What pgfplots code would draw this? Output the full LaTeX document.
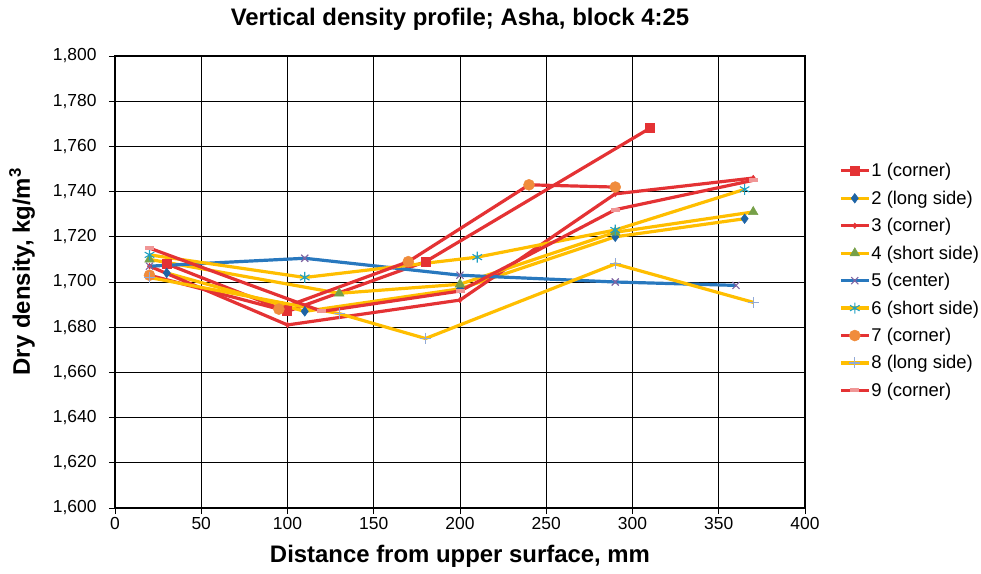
\documentclass[border=0pt]{standalone}
\usepackage{fontspec}
\setmainfont{Liberation Sans}
\usepackage{pgfplots}
\pgfplotsset{compat=1.18}

\definecolor{cred}{RGB}{228,50,52}
\definecolor{cgold}{RGB}{255,190,0}
\definecolor{cblue}{RGB}{40,120,190}
\definecolor{cdiam}{RGB}{30,100,165}
\definecolor{cgreen}{RGB}{118,160,72}
\definecolor{cpurp}{RGB}{128,100,162}
\definecolor{cteal}{RGB}{30,160,195}
\definecolor{corange}{RGB}{240,140,60}
\definecolor{cplus}{RGB}{145,170,215}
\definecolor{cpink}{RGB}{240,150,150}

\pgfplotsset{
  legend image code/.code={
    \draw[mark repeat=2,mark phase=2,#1] plot coordinates {(0bp,0bp) (14bp,0bp) (28bp,0bp)};
  },
}

\begin{document}
\begin{tikzpicture}
\begin{axis}[
  name=ax,
  scale only axis,
  width=690bp, height=452bp,
  xmin=0, xmax=400, ymin=1600, ymax=1800,
  xtick={0,50,...,400}, ytick={1600,1620,...,1800},
  scaled ticks=false,
  grid=major,
  major grid style={black, line width=0.9bp},
  axis line style={black, line width=1.2bp},
  tick align=outside, xtick pos=left, ytick pos=left,
  major tick length=6bp,
  tick style={black, line width=0.9bp},
  ticklabel style={font=\fontsize{17.5}{20}\selectfont},
  /pgf/number format/assume math mode=true,
  yticklabel style={/pgf/number format/1000 sep={,}, xshift=-9bp},
  title={Vertical density profile; Asha, block 4:25},
  title style={font=\fontsize{24}{28}\selectfont\bfseries, at={(axis description cs:0.5,1.0553)}, anchor=base},
  xlabel={Distance from upper surface, mm},
  ylabel={Dry density, kg/m\textsuperscript{3}},
  label style={font=\fontsize{24}{28}\selectfont\bfseries},
  xlabel style={at={(axis description cs:0.5,-0.1195)}, anchor=base},
  ylabel style={at={(axis description cs:-0.1232,0.523)}, anchor=base},
  legend style={draw=none, fill=none, at={(axis description cs:1,0.503)}, anchor=west,
    xshift=34bp, inner sep=0pt, font=\fontsize{18.5}{20}\selectfont,
    nodes={inner sep=1bp}, row sep=10.6bp},
  legend cell align=left,
  every axis plot/.append style={line width=3.2bp},
]
% 1 (corner)
\addplot[cred, mark=square*, mark size=3.4bp, mark options={solid}] coordinates {
(30,1708) (100,1687) (180,1709) (310,1768)
};
% 2 (long side)
\addplot[cgold, mark=diamond*, mark size=4.8bp, mark options={draw=cdiam, fill=cdiam, line width=0.5bp}] coordinates {
(30,1704) (110,1687) (200,1697) (290,1720) (365,1728)
};
% 3 (corner)
\addplot[cred, mark=diamond*, mark size=2.8bp, mark options={line width=0.5bp}] coordinates {
(20,1707) (100,1681) (200,1692) (290,1739) (370,1746)
};
% 4 (short side)
\addplot[cgold, mark=triangle*, mark size=5.5bp, mark options={draw=cgreen, fill=cgreen, line width=0.5bp}] coordinates {
(20,1710) (130,1695) (200,1699) (290,1722) (370,1731)
};
% 5 (center)
\addplot[cblue, mark=x, mark size=5bp, mark options={draw=cpurp, line width=1.1bp}] coordinates {
(20,1707) (110,1710.5) (200,1703) (290,1700) (360,1698.5)
};
% 6 (short side)
\addplot[cgold, mark=asterisk, mark size=5.5bp, mark options={draw=cteal, line width=1.1bp}] coordinates {
(20,1712) (110,1702) (210,1711) (290,1723) (365,1741)
};
% 7 (corner)
\addplot[cred, mark=*, mark size=5.5bp, mark options={draw=corange, fill=corange, line width=0.5bp}] coordinates {
(20,1703) (95,1688) (170,1709) (240,1743) (290,1742)
};
% 8 (long side)
\addplot[cgold, mark=+, mark size=5.5bp, mark options={draw=cplus, line width=1.1bp}] coordinates {
(20,1702) (130,1686) (180,1675) (290,1708) (370,1691)
};
% 9 (corner)
\addplot[cred, mark=-, mark size=4.5bp, mark options={draw=cpink, line width=4bp}] coordinates {
(20,1715) (120,1687) (200,1696) (290,1732) (370,1745)
};
\legend{1 (corner),2 (long side),3 (corner),4 (short side),5 (center),6 (short side),7 (corner),8 (long side),9 (corner)}
\end{axis}
\path (ax.south west) ++(-115bp,-66bp) rectangle ++(981bp,574bp);
\end{tikzpicture}
\end{document}
